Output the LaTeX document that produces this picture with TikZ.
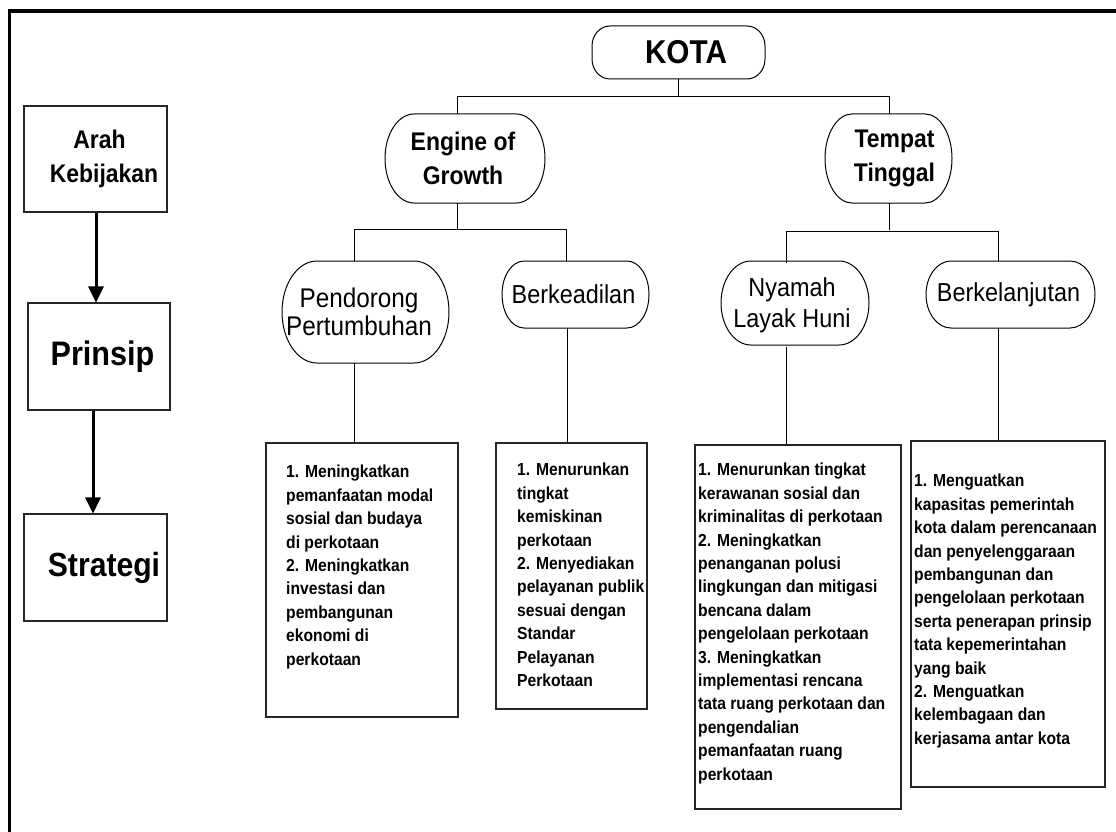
\documentclass[tikz,border=0pt]{standalone}
\usepackage{fontspec}
\setmainfont{Liberation Sans}[FakeStretch=0.9]
\usetikzlibrary{arrows.meta,calc}

\newcommand\ovalshape[6]{%
  \draw[line width=1pt] ({#1+#5},#2) -- ({#3-#5},#2)
    arc[start angle=90,end angle=0,x radius=#5pt,y radius=#6pt]
    -- (#3,{#4-#6})
    arc[start angle=0,end angle=-90,x radius=#5pt,y radius=#6pt]
    -- ({#1+#5},#4)
    arc[start angle=-90,end angle=-180,x radius=#5pt,y radius=#6pt]
    -- (#1,{#2+#6})
    arc[start angle=180,end angle=90,x radius=#5pt,y radius=#6pt]
    -- cycle;}

\begin{document}
\begin{tikzpicture}[x=1pt,y=-1pt,
  conn/.style={line width=1pt, draw=black},
  oval/.style={draw=none, inner sep=0pt, align=center},
  boxline/.style={draw=black!85, line width=1.1pt, inner sep=0pt},
  body/.style={inner sep=0pt, anchor=north west, align=left,
    font=\fontsize{17.4}{23.4}\selectfont\bfseries},
  lbox/.style={draw=black!85, line width=1.1pt, inner sep=0pt, align=center},
  flow/.style={line width=3pt, -{Triangle[length=16pt,width=15pt]}},
  boldtxt/.style={font=\fontsize{25.5}{33.5}\selectfont\bfseries},
  regtxt/.style={font=\fontsize{26}{31}\selectfont},
]
\useasboundingbox (0,0) rectangle (1116,832);

% outer frame (cut at right and bottom)
\draw[line width=3.5pt] (9.5,832) -- (9.5,10.8) -- (1116,10.8);

% left column
\node[lbox, minimum width=143pt, minimum height=106pt, font=\fontsize{25.5}{34}\selectfont\bfseries]
  (arah) at (95.5,159) {\hspace*{8pt}Arah\\\hspace*{17pt}Kebijakan};
\node[lbox, minimum width=142pt, minimum height=107pt, font=\fontsize{34}{40}\selectfont\bfseries]
  (prinsip) at (99,356.5) {\hspace*{7pt}Prinsip};
\node[lbox, minimum width=143pt, minimum height=107pt, font=\fontsize{33.5}{40}\selectfont\bfseries]
  (strategi) at (95.5,567.5) {\hspace*{17pt}Strategi};
\draw[flow] ([xshift=0.5pt]arah.south) -- ([xshift=0.5pt]arah.south |- prinsip.north);
\draw[flow] ([xshift=-6pt]prinsip.south) -- ([xshift=-6pt]prinsip.south |- strategi.north);

% oval outlines
\ovalshape{592}{26}{765}{79}{18}{20}
\ovalshape{385}{114}{545}{203}{29}{44.5}
\ovalshape{825}{114}{952}{203}{27}{44.5}
\ovalshape{282}{261}{449}{363}{35}{51}
\ovalshape{502}{261}{649}{328}{22}{33.5}
\ovalshape{721}{261}{869}{345}{30}{42}
\ovalshape{926}{261}{1095}{328}{25}{33.5}

% oval nodes (text)
\node[oval, minimum height=53pt, font=\fontsize{33}{40}\selectfont\bfseries] (kota) at (686,52.5) {KOTA};
\node[oval, boldtxt, minimum height=89pt] (engine) at (463,158.5) {Engine of\\Growth};
\node[oval, boldtxt, minimum height=89pt] (tempat) at (894.5,158.5) {Tempat\\Tinggal};
\node[oval, minimum height=102pt, font=\fontsize{27}{27.5}\selectfont] (pend) at (359,312) {Pendorong\\Pertumbuhan};
\node[oval, regtxt, minimum height=67pt] (berk) at (573.5,294.5) {Berkeadilan};
\node[oval, regtxt, minimum height=84pt] (nyam) at (792,305) {Nyamah\\Layak Huni};
\node[oval, regtxt, minimum height=67pt] (lanj) at (1008.5,294.5) {Berkelanjutan};

% tree connectors
\draw[conn] ([xshift=-8pt]kota.south) -- ++(0,18);
\draw[conn] ([xshift=-6pt]engine.north) -- ++(0,-17) -| ([xshift=-5.5pt]tempat.north);
\draw[conn] ([xshift=-6pt]engine.south) -- ++(0,27);
\draw[conn] ([xshift=-5pt]pend.north) -- ++(0,-31) -| ([xshift=-7pt]berk.north);
\draw[conn] ([xshift=-5.5pt]tempat.south) -- ++(0,27);
\draw[conn] ([xshift=-6pt]nyam.north) -- ++(0,-31) -| ([xshift=-10.5pt]lanj.north);

% strategy boxes
\node[boxline, minimum width=192pt, minimum height=274pt] (s1) at (362,580) {};
\node[boxline, minimum width=151pt, minimum height=266pt] (s2) at (571.5,576) {};
\node[boxline, minimum width=206pt, minimum height=364pt] (s3) at (798,627) {};
\node[boxline, minimum width=194pt, minimum height=346pt] (s4) at (1008,614) {};

\draw[conn] ([xshift=-5pt]pend.south) -- ([xshift=-5pt]pend.south |- s1.north);
\draw[conn] ([xshift=-6.5pt]berk.south) -- ([xshift=-6.5pt]berk.south |- s2.north);
\draw[conn] ([xshift=-6pt]nyam.south) -- ([xshift=-6pt]nyam.south |- s3.north);
\draw[conn] ([xshift=-10.5pt]lanj.south) -- ([xshift=-10.5pt]lanj.south |- s4.north);

\node[body] (t1) at (286,465) {1. Meningkatkan\\pemanfaatan modal\\sosial dan budaya\\di perkotaan\\2. Meningkatkan\\investasi dan\\pembangunan\\ekonomi di\\perkotaan};
\node[body] (t2) at (517,463) {1. Menurunkan\\tingkat\\kemiskinan\\perkotaan\\2. Menyediakan\\pelayanan publik\\sesuai dengan\\Standar\\Pelayanan\\Perkotaan};
\node[body] (t3) at (698,463) {1. Menurunkan tingkat\\kerawanan sosial dan\\kriminalitas di perkotaan\\2. Meningkatkan\\penanganan polusi\\lingkungan dan mitigasi\\bencana dalam\\pengelolaan perkotaan\\3. Meningkatkan\\implementasi rencana\\tata ruang perkotaan dan\\pengendalian\\pemanfaatan ruang\\perkotaan};
\node[body] (t4) at (914,474) {1. Menguatkan\\kapasitas pemerintah\\kota dalam perencanaan\\dan penyelenggaraan\\pembangunan dan\\pengelolaan perkotaan\\serta penerapan prinsip\\tata kepemerintahan\\yang baik\\2. Menguatkan\\kelembagaan dan\\kerjasama antar kota};
\end{tikzpicture}
\end{document}
